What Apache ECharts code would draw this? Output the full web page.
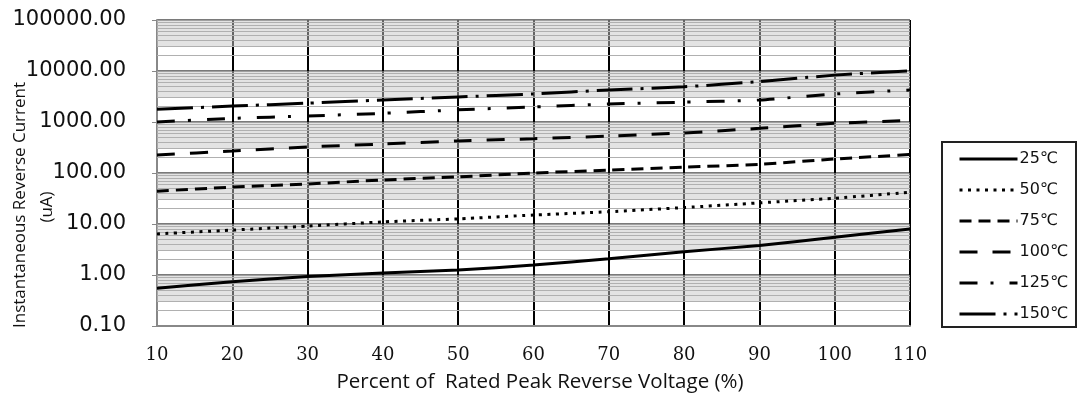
<!DOCTYPE html>
<html><head><meta charset="utf-8">
<script src="https://cdn.jsdelivr.net/npm/echarts@6/dist/echarts.min.js"></script>
<style>html,body{margin:0;padding:0;background:#fff}#c{width:1081px;height:398px}</style>
</head><body><div id="c"></div>
<script>
const xValues = [10, 20, 30, 40, 50, 60, 70, 80, 90, 100, 110];
const seriesNames = ['25℃', '50℃', '75℃', '100℃', '125℃', '150℃'];
const t25 = [0.55, 0.74, 0.93, 1.1, 1.25, 1.57, 2.09, 2.86, 3.8, 5.5, 8.0];
const t50 = [6.4, 7.6, 9.1, 11, 12.6, 15, 17.4, 21, 26, 32, 42];
const t75 = [44, 53, 61, 73, 84, 100, 114, 130, 148, 188, 230];
const t100 = [225, 270, 324, 370, 425, 470, 530, 610, 752, 943, 1070];
const t125 = [1000, 1180, 1310, 1480, 1730, 1970, 2250, 2450, 2700, 3540, 4250];
const t150 = [1770, 2050, 2340, 2700, 3100, 3550, 4250, 4900, 6200, 8300, 10100];
const yMin = 0.1, yMax = 100000;
const xTitle = 'Percent of  Rated Peak Reverse Voltage (%)';
const yTitle = 'Instantaneous Reverse Current';
const yUnit = '(uA)';

const allData = [t25, t50, t75, t100, t125, t150];
const dashes = ['solid', [3, 5.5], [12, 7], [18, 15], [18, 13, 3, 16], [36, 8, 3, 8]];

// minor log gridlines (2..9 within each decade) and shaded upper part of decades
const minorLines = [];
const shadeAreas = [];
for (let k = -1; k < 5; k++) {
  const base = Math.pow(10, k);
  for (let m = 2; m <= 9; m++) minorLines.push({ yAxis: m * base });
  shadeAreas.push([{ yAxis: 3 * base }, { yAxis: 10 * base }]);
}

const series = seriesNames.map((name, i) => ({
  name,
  type: 'line',
  data: xValues.map((x, j) => [x, allData[i][j]]),
  showSymbol: false,
  symbol: 'none',
  smooth: 0.2,
  z: 5,
  lineStyle: { color: '#000', width: 3, type: dashes[i], cap: 'butt' },
  itemStyle: { color: '#000' }
}));
series.push({
  name: 'bg',
  type: 'line',
  data: [],
  z: 1,
  silent: true,
  markLine: {
    silent: true, symbol: 'none', label: { show: false },
    lineStyle: { color: '#b0b0b0', width: 1, type: 'solid' },
    emphasis: { disabled: true },
    data: minorLines
  },
  markArea: {
    silent: true,
    itemStyle: { color: 'rgba(200,200,200,0.5)' },
    emphasis: { disabled: true },
    data: shadeAreas
  }
});

const chart = echarts.init(document.getElementById('c'));
chart.setOption({
  animation: false,
  backgroundColor: '#fff',
  grid: { left: 157, right: 171, top: 20, bottom: 72 },
  xAxis: {
    type: 'value', min: 10, max: 110, interval: 10,
    axisLine: { show: true, lineStyle: { color: '#888', width: 2 } },
    axisTick: { show: false },
    axisLabel: { margin: 20, color: '#111', fontFamily: 'DejaVu Serif', fontSize: 18 },
    splitLine: { show: true, lineStyle: { color: '#000', width: 2 } }
  },
  yAxis: {
    type: 'log', logBase: 10, min: yMin, max: yMax,
    axisLine: { show: true, lineStyle: { color: '#888', width: 2 } },
    axisTick: { show: true, inside: false, length: 5, lineStyle: { color: '#888', width: 1 } },
    axisLabel: { margin: 31, color: '#111', fontFamily: 'DejaVu Sans', fontSize: 21,
      formatter: v => Number(v).toFixed(2) },
    splitLine: { show: true, lineStyle: { color: '#7a7a7a', width: 2 } }
  },
  legend: {
    data: seriesNames,
    orient: 'vertical',
    left: 953, top: 146,
    itemWidth: 58, itemHeight: 14, itemGap: 15,
    itemStyle: { opacity: 0 },
    lineStyle: { width: 3 },
    textStyle: { color: '#111', fontFamily: 'DejaVu Sans', fontSize: 16, padding: [0, 0, 0, -3] }
  },
  graphic: [
    { type: 'rect', left: 941, top: 141, z: 0,
      shape: { width: 134, height: 185 },
      style: { fill: '#fff', stroke: '#222', lineWidth: 2 } },
    { type: 'text', z: 10, x: 540, y: 382,
      style: { text: xTitle, fill: '#111', font: '20.5px "Open Sans"', textAlign: 'center', textVerticalAlign: 'middle' } },
    { type: 'text', z: 10, x: 20, y: 205, rotation: Math.PI / 2,
      style: { text: yTitle, fill: '#111', font: '17px "Open Sans"', textAlign: 'center', textVerticalAlign: 'middle' } },
    { type: 'text', z: 10, x: 47, y: 207, rotation: Math.PI / 2,
      style: { text: yUnit, fill: '#111', font: '17px "Open Sans"', textAlign: 'center', textVerticalAlign: 'middle' } }
  ],
  series
});
</script></body></html>
